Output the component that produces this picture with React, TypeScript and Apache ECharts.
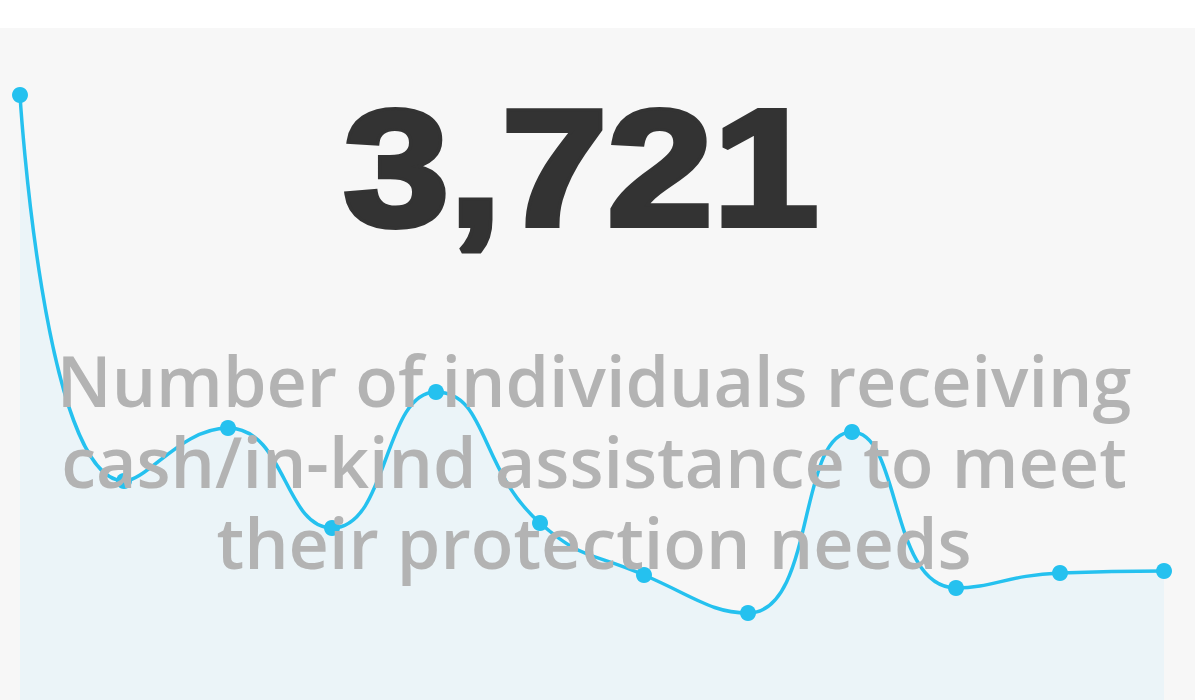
import React, { useEffect, useRef } from "react";
import * as echarts from "echarts";

const months = ["1", "2", "3", "4", "5", "6", "7", "8", "9", "10", "11", "12"];
const values = [605, 219, 272, 172, 308, 177, 125, 87, 268, 112, 127, 129];
const kpiValue = "3,721";
const kpiLabel = "Number of individuals receiving\ncash/in-kind assistance to meet\ntheir protection needs";

export default function App() {
  const ref = useRef<HTMLDivElement>(null);
  useEffect(() => {
    if (!ref.current) return;
    const chart = echarts.init(ref.current, undefined, { renderer: "svg" });
    chart.setOption({
      animation: false,
      backgroundColor: "transparent",
      grid: { left: 20, right: 31, top: 95, bottom: 0 },
      xAxis: {
        type: "category",
        data: months,
        boundaryGap: false,
        show: false,
      },
      yAxis: { type: "value", min: 0, max: 605, show: false },
      series: [
        {
          type: "line",
          data: values,
          smooth: true,
          symbol: "circle",
          symbolSize: 16,
          lineStyle: { color: "#25c1ef", width: 3.5 },
          itemStyle: { color: "#25c1ef" },
          areaStyle: { color: "#ebf4f8", opacity: 1 },
          z: 2,
        },
      ],
      graphic: [
        {
          type: "text",
          z: 100,
          x: 581,
          y: 168,
          scaleX: 1.15,
          style: {
            text: kpiValue,
            fill: "#333333",
            stroke: "#333333",
            lineWidth: 6,
            lineJoin: "round",
            font: "bold 165px 'Liberation Sans', Arial, sans-serif",
            textAlign: "center",
            textVerticalAlign: "middle",
          },
        },
        {
          type: "text",
          z: 100,
          x: 594,
          y: 339,
          style: {
            text: kpiLabel,
            fill: "#b3b3b3",
            font: "600 70px 'Open Sans', 'Noto Sans', sans-serif",
            lineHeight: 81,
            textAlign: "center",
            textVerticalAlign: "top",
          },
        },
      ],
    });
    return () => chart.dispose();
  }, []);
  return (
    <div style={{ position: "fixed", left: 0, top: 0, width: 1195, height: 700, background: "#ffffff", overflow: "hidden" }}>
      <div style={{ position: "absolute", left: 0, top: 28, width: 1195, height: 672, background: "#f7f7f7" }} />
      <div ref={ref} style={{ position: "absolute", left: 0, top: 0, width: 1195, height: 700 }} />
    </div>
  );
}
